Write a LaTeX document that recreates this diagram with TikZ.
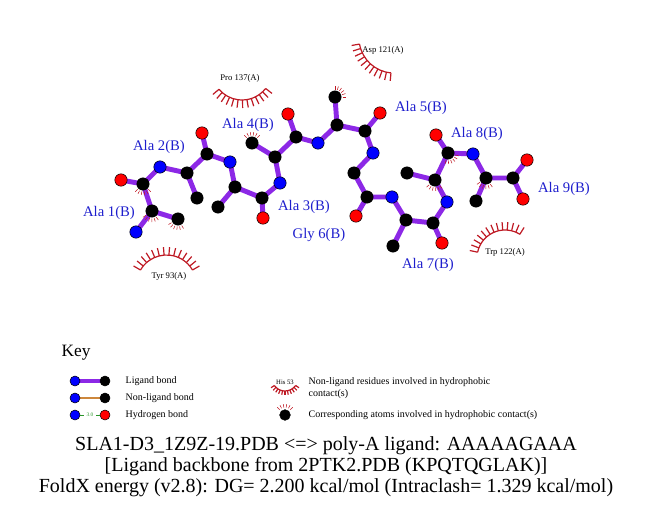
\documentclass[tikz,border=0pt]{standalone}
\usepackage{fontspec}
\setmainfont{Liberation Serif}
\usetikzlibrary{calc,backgrounds}
\definecolor{ligbond}{RGB}{140,40,230}
\definecolor{nonlig}{RGB}{205,135,60}
\definecolor{hphob}{RGB}{190,25,35}
\definecolor{resblue}{RGB}{30,30,205}
\definecolor{hbgreen}{RGB}{40,150,40}
% eyelash of a residue: centre, radius, from, to, spoke length, gaps
\newcommand{\lasharc}[6]{%
  \draw[lash] ($(#1)+(#3:#2)$) arc[start angle=#3,end angle=#4,radius=#2];
  \foreach \i in {0,...,#6}{
    \pgfmathsetmacro{\ang}{#3+(#4-#3)*\i/#6}
    \pgfmathsetmacro{\rout}{#2+#5}
    \draw[lash] ($(#1)+(\ang:#2)$) -- ($(#1)+(\ang:\rout)$);
  }}
% little marks on an atom in contact: atom, direction
\newcommand{\contact}[2]{%
  \foreach \k in {-45,-27,...,45}{
    \pgfmathsetmacro{\ang}{#2+\k}
    \draw[hphob,line width=0.4pt] ($(#1)+(\ang:7.5)$) -- ($(#1)+(\ang:11)$);
  }}

\begin{document}
\begin{tikzpicture}[x=0.75pt,y=-0.75pt,
    atom/.style={circle,draw=black,line width=0.4pt,inner sep=0pt,minimum size=9.3pt},
    catom/.style={atom,fill=black},
    natom/.style={atom,fill=blue},
    oatom/.style={atom,fill=red},
    katom/.style={atom,minimum size=7.5pt},
    lbond/.style={draw=ligbond,line width=3.7pt},
    nlbond/.style={draw=nonlig,line width=2pt},
    hbond/.style={draw=hbgreen,dashed,line width=0.6pt},
    lash/.style={draw=hphob,line width=0.9pt},
    res/.style={text=resblue,font=\fontsize{11}{13}\selectfont},
    hres/.style={font=\fontsize{6.5}{8}\selectfont},
    keytext/.style={anchor=west,font=\fontsize{7.5}{9}\selectfont},
    title/.style={font=\fontsize{15}{18}\selectfont}]
  \useasboundingbox (0,0) rectangle (651,511);
  % Ala 1
  \node[natom] (n1) at (136,232) {};
  \node[catom] (ca1) at (152,211) {};
  \node[catom] (cb1) at (178,219) {};
  \node[catom] (c1) at (143,184) {};
  \node[oatom] (o1) at (121,180) {};
  % Ala 2
  \node[natom] (n2) at (160,167) {};
  \node[catom] (ca2) at (187,173) {};
  \node[catom] (cb2) at (197,198) {};
  \node[catom] (c2) at (207,154) {};
  \node[oatom] (o2) at (202,133) {};
  % Ala 3
  \node[natom] (n3) at (230,162) {};
  \node[catom] (ca3) at (235,187) {};
  \node[catom] (cb3) at (218,207) {};
  \node[catom] (c3) at (262,198) {};
  \node[oatom] (o3) at (263,218) {};
  % Ala 4
  \node[natom] (n4) at (280,183) {};
  \node[catom] (ca4) at (275,157) {};
  \node[catom] (cb4) at (252,143) {};
  \node[catom] (c4) at (296,137) {};
  \node[oatom] (o4) at (288,114) {};
  % Ala 5
  \node[natom] (n5) at (318,143) {};
  \node[catom] (ca5) at (337,125) {};
  \node[catom] (cb5) at (335,97) {};
  \node[catom] (c5) at (365,131) {};
  \node[oatom] (o5) at (380,113) {};
  % Gly 6
  \node[natom] (n6) at (373,153) {};
  \node[catom] (ca6) at (354,173) {};
  \node[catom] (c6) at (367,197) {};
  \node[oatom] (o6) at (356,216) {};
  % Ala 7
  \node[natom] (n7) at (392,197) {};
  \node[catom] (ca7) at (406,220) {};
  \node[catom] (cb7) at (393,246) {};
  \node[catom] (c7) at (433,223) {};
  \node[oatom] (o7) at (442,243) {};
  % Ala 8
  \node[natom] (n8) at (447,202) {};
  \node[catom] (ca8) at (435,180) {};
  \node[catom] (cb8) at (407,173) {};
  \node[catom] (c8) at (448,153) {};
  \node[oatom] (o8) at (436,135) {};
  % Ala 9
  \node[natom] (n9) at (473,154) {};
  \node[catom] (ca9) at (486,178) {};
  \node[catom] (cb9) at (476,201) {};
  \node[catom] (c9) at (513,178) {};
  \node[oatom] (o9) at (527,160) {};
  \node[oatom] (oxt) at (523,199) {};
  % ligand bonds
  \begin{pgfonlayer}{background}
    \draw[lbond] (n1.center) -- (ca1.center) -- (c1.center) -- (n2.center) -- (ca2.center) -- (c2.center) -- (n3.center) -- (ca3.center) -- (c3.center) -- (n4.center) -- (ca4.center) -- (c4.center) -- (n5.center) -- (ca5.center) -- (c5.center) -- (n6.center) -- (ca6.center) -- (c6.center) -- (n7.center) -- (ca7.center) -- (c7.center) -- (n8.center) -- (ca8.center) -- (c8.center) -- (n9.center) -- (ca9.center) -- (c9.center) -- (o9.center);
    \draw[lbond] (ca1.center) -- (cb1.center);
    \draw[lbond] (c1.center) -- (o1.center);
    \draw[lbond] (ca2.center) -- (cb2.center);
    \draw[lbond] (c2.center) -- (o2.center);
    \draw[lbond] (ca3.center) -- (cb3.center);
    \draw[lbond] (c3.center) -- (o3.center);
    \draw[lbond] (ca4.center) -- (cb4.center);
    \draw[lbond] (c4.center) -- (o4.center);
    \draw[lbond] (ca5.center) -- (cb5.center);
    \draw[lbond] (c5.center) -- (o5.center);
    \draw[lbond] (c6.center) -- (o6.center);
    \draw[lbond] (ca7.center) -- (cb7.center);
    \draw[lbond] (c7.center) -- (o7.center);
    \draw[lbond] (ca8.center) -- (cb8.center);
    \draw[lbond] (c8.center) -- (o8.center);
    \draw[lbond] (ca9.center) -- (cb9.center);
    \draw[lbond] (c9.center) -- (oxt.center);
  \end{pgfonlayer}
  % residue labels
  \node[res] (lab1) at (109,213) {Ala 1(B)};
  \node[res] (lab2) at (159,147) {Ala 2(B)};
  \node[res] (lab3) at (304,207) {Ala 3(B)};
  \node[res] (lab4) at (248,125) {Ala 4(B)};
  \node[res] (lab5) at (421,108) {Ala 5(B)};
  \node[res] (lab6) at (319,235) {Gly 6(B)};
  \node[res] (lab7) at (428,265) {Ala 7(B)};
  \node[res] (lab8) at (477,134) {Ala 8(B)};
  \node[res] (lab9) at (564,189) {Ala 9(B)};
  % hydrophobic contacts
  \coordinate (pro137) at (242,70);
  \node[hres] (lpro) at (240,78) {Pro 137(A)};
  \lasharc{pro137}{30}{38}{140}{8}{12}
  \coordinate (asp121) at (394,38);
  \node[hres] (lasp) at (383,50) {Asp 121(A)};
  \lasharc{asp121}{35}{95}{170}{8}{10}
  \coordinate (trp122) at (505,258);
  \node[hres] (ltrp) at (505,252) {Trp 122(A)};
  \lasharc{trp122}{28}{192}{302}{8}{12}
  \coordinate (tyr93) at (166.5,285);
  \node[hres] (ltyr) at (169,276) {Tyr 93(A)};
  \lasharc{tyr93}{30}{210}{330}{8}{13}
  \contact{c1}{90}
  \contact{ca1}{100}
  \contact{cb1}{105}
  \contact{cb4}{270}
  \contact{cb5}{315}
  \contact{c8}{60}
  \contact{ca8}{95}
  \contact{ca9}{100}
  % key
  \node[font=\fontsize{13}{15}\selectfont] (key) at (76,353) {Key};
  \node[katom,fill=blue] (kn1) at (75,381) {};
  \node[katom,fill=black] (kc1) at (105,381) {};
  \node[keytext] (klig) at (121,381) {Ligand bond};
  \node[katom,fill=blue] (kn2) at (75,398) {};
  \node[katom,fill=black] (kc2) at (105,398) {};
  \node[keytext] (knon) at (121,398) {Non-ligand bond};
  \node[katom,fill=blue] (kn3) at (75,415) {};
  \node[katom,fill=red] (ko3) at (105,415) {};
  \node[keytext] (khb) at (121,415) {Hydrogen bond};
  \begin{pgfonlayer}{background}
    \draw[lbond,line width=3pt] (kn1.center) -- (kc1.center);
    \draw[nlbond] (kn2.center) -- (kc2.center);
  \end{pgfonlayer}
  \draw[hbond] (kn3) -- node[font=\fontsize{4}{4}\selectfont,text=hbgreen,fill=white,inner sep=0.5pt] {3.0} (ko3);
  \coordinate (khisc) at (285,378);
  \node[font=\fontsize{5}{6}\selectfont] (khis) at (285,382) {His 53};
  \lasharc{khisc}{13}{35}{145}{4}{10}
  \node[keytext] (kres) at (304,382) {Non-ligand residues involved in hydrophobic};
  \node[keytext] (kres2) at (304,394) {contact(s)};
  \node[catom,minimum size=8pt] (kcont) at (285,415) {};
  \contact{kcont}{270}
  \node[keytext] (kcorr) at (304,415) {Corresponding atoms involved in hydrophobic contact(s)};
  % title lines
  \node[title] (t1) at (326,446) {SLA1-D3\_1Z9Z-19.PDB <=> poly-A ligand: AAAAAGAAA};
  \node[title] (t2) at (326,467) {[Ligand backbone from 2PTK2.PDB (KPQTQGLAK)]};
  \node[title] (t3) at (326,488) {FoldX energy (v2.8): DG= 2.200 kcal/mol (Intraclash= 1.329 kcal/mol)};
\end{tikzpicture}
\end{document}
